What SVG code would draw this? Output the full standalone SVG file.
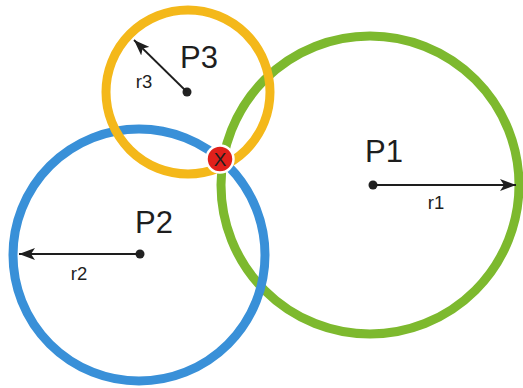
<svg xmlns="http://www.w3.org/2000/svg" width="523" height="388" viewBox="0 0 523 388">
<defs>
<style>
.ring{fill:none;stroke-width:9}
.dot{fill:#222}
.big{font-family:"Liberation Sans",Arial,sans-serif;font-size:31px;fill:#1e1e1e}
.small{font-family:"Liberation Sans",Arial,sans-serif;font-size:18.5px;fill:#1e1e1e;text-anchor:middle}
.arrow{stroke:#1e1e1e;stroke-width:1.8;fill:none;marker-end:url(#ah)}
</style>
<marker id="ah" markerUnits="userSpaceOnUse" markerWidth="16" markerHeight="12" refX="16" refY="6" orient="auto" viewBox="0 0 16 12">
<path d="M0,0 L16,6 L0,12 L4,6 Z" fill="#1e1e1e"/>
</marker>
</defs>
<rect width="523" height="388" fill="#fff"/>
<g id="P1">
<circle class="ring" cx="370" cy="185" r="149" stroke="#7DB92E"/>
<circle class="dot" cx="373" cy="185" r="4.5"/>
<text class="big" x="365" y="162">P1</text>
</g>
<g id="P2">
<circle class="ring" cx="139" cy="255" r="126" stroke="#3990D8"/>
<circle class="dot" cx="140" cy="254" r="4.5"/>
<text class="big" x="135" y="233">P2</text>
</g>
<g id="P3">
<circle class="ring" cx="188" cy="92" r="82" stroke="#F4B81A"/>
<circle class="dot" cx="187" cy="92" r="4.5"/>
<text class="big" x="180" y="68">P3</text>
</g>
<g id="connectors">
<line class="arrow" x1="373" y1="185" x2="516" y2="185"/>
<line class="arrow" x1="140" y1="254" x2="19" y2="254"/>
<line class="arrow" x1="187" y1="92" x2="134" y2="40"/>
<text class="small" x="436" y="209">r1</text>
<text class="small" x="79" y="280">r2</text>
<text class="small" x="144" y="88">r3</text>
</g>
<g id="X">
<circle cx="220" cy="159" r="13.5" fill="#E0201B" stroke="#fff" stroke-width="2.5"/>
<text x="220" y="166" style="font-family:'Liberation Sans',Arial,sans-serif;font-size:19px;fill:#1e1e1e;text-anchor:middle">X</text>
</g>
</svg>
